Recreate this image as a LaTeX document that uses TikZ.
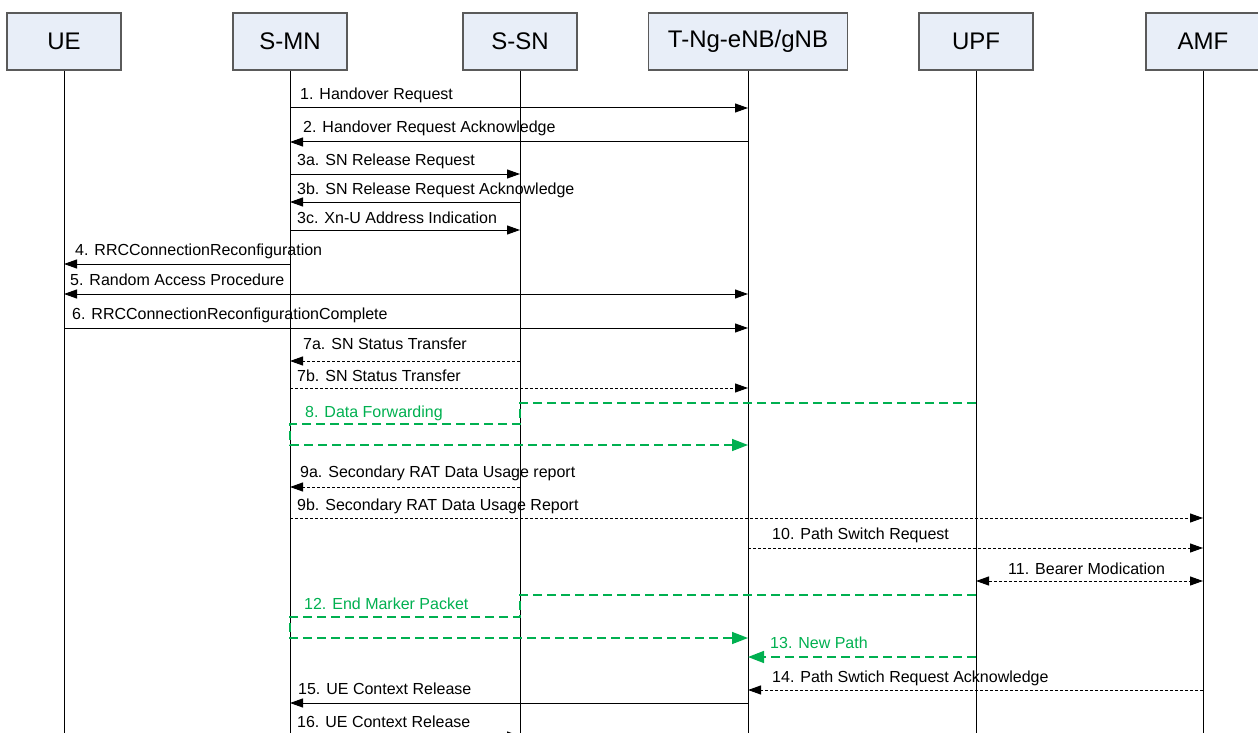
\documentclass[tikz,border=0pt]{standalone}
\usepackage{fontspec}
\setmainfont{Liberation Sans}
\usetikzlibrary{arrows.meta}
\definecolor{boxfill}{RGB}{232,238,248}
\definecolor{boxline}{RGB}{90,90,90}
\definecolor{fwdgreen}{RGB}{0,176,80}
\begin{document}
\begin{tikzpicture}[x=1pt,y=-1pt,
  actor/.style={draw=boxline,line width=1.3pt,fill=boxfill,minimum width=114pt,
    minimum height=57pt,inner sep=0pt,font=\fontsize{24}{28}\selectfont},
  life/.style={line width=1pt},
  lbl/.style={anchor=west,inner sep=0pt,font=\fontsize{16}{19}\selectfont},
  glbl/.style={lbl,text=fwdgreen},
  >={Triangle[length=13pt,width=9pt]},
  msg/.style={line width=1pt,->},
  both/.style={line width=1pt,<->},
  dmsg/.style={msg,dash pattern=on 3pt off 2pt},
  dboth/.style={both,dash pattern=on 3pt off 2pt},
  fwd/.style={draw=fwdgreen,line width=1.5pt,dash pattern=on 9pt off 5pt,
    -{Triangle[length=16pt,width=12pt]}}]
  \useasboundingbox (0,0) rectangle (1258,733);

  % entities
  \node[actor] (ue) at (64,41.5) {UE};
  \node[actor] (smn) at (290,41.5) {S-MN};
  \node[actor] (ssn) at (520,41.5) {S-SN};
  \node[actor,minimum width=199pt] (tng) at (748,41.5) {T-Ng-eNB/gNB};
  \node[actor] (upf) at (976,41.5) {UPF};
  \node[actor] (amf) at (1203,41.5) {AMF};

  % lifelines
  \foreach \n in {ue,smn,ssn,tng,upf,amf}
    \draw[life] (\n.south) -- (\n.south |- 0,740);

  % messages
  \draw[msg] (smn |- 0,108) -- (tng |- 0,108);
  \node[lbl] at ([xshift=10pt]smn |- 0,95) {1. Handover Request};
  \draw[msg] (tng |- 0,142) -- (smn |- 0,142);
  \node[lbl] at ([xshift=13pt]smn |- 0,128) {2. Handover Request Acknowledge};
  \draw[msg] (smn |- 0,174) -- (ssn |- 0,174);
  \node[lbl] at ([xshift=7pt]smn |- 0,161) {3a. SN Release Request};
  \draw[msg] (ssn |- 0,202) -- (smn |- 0,202);
  \node[lbl] at ([xshift=7pt]smn |- 0,190) {3b. SN Release Request Acknowledge};
  \draw[msg] (smn |- 0,230) -- (ssn |- 0,230);
  \node[lbl] at ([xshift=7pt]smn |- 0,218) {3c. Xn-U Address Indication};
  \draw[msg] (smn |- 0,264) -- (ue |- 0,264);
  \node[lbl] at ([xshift=11pt]ue |- 0,251) {4. RRCConnectionReconfiguration};
  \draw[both] (ue |- 0,294) -- (tng |- 0,294);
  \node[lbl] at ([xshift=6pt]ue |- 0,280) {5. Random Access Procedure};
  \draw[msg] (ue |- 0,328) -- (tng |- 0,328);
  \node[lbl] at ([xshift=8pt]ue |- 0,315) {6. RRCConnectionReconfigurationComplete};
  \draw[dmsg] (ssn |- 0,361) -- (smn |- 0,361);
  \node[lbl] at ([xshift=13pt]smn |- 0,344) {7a. SN Status Transfer};
  \draw[dmsg] (smn |- 0,388) -- (tng |- 0,388);
  \node[lbl] at ([xshift=7pt]smn |- 0,376) {7b. SN Status Transfer};

  % data forwarding
  \draw[fwd] (upf |- 0,403) -- (ssn |- 0,403) -- (ssn |- 0,424) -- (smn |- 0,424)
    -- (smn |- 0,445) -- (tng |- 0,445);
  \node[glbl] at ([xshift=15pt]smn |- 0,413) {8. Data Forwarding};

  \draw[dmsg] (ssn |- 0,487) -- (smn |- 0,487);
  \node[lbl] at ([xshift=10pt]smn |- 0,473) {9a. Secondary RAT Data Usage report};
  \draw[dmsg] (smn |- 0,518) -- (amf |- 0,518);
  \node[lbl] at ([xshift=7pt]smn |- 0,506) {9b. Secondary RAT Data Usage Report};
  \draw[dmsg] (tng |- 0,548) -- (amf |- 0,548);
  \node[lbl] at ([xshift=24pt]tng |- 0,535) {10. Path Switch Request};
  \draw[dboth] (upf |- 0,581) -- (amf |- 0,581);
  \node[lbl] at ([xshift=32pt]upf |- 0,569) {11. Bearer Modication};

  % end marker and new path
  \draw[fwd] (upf |- 0,595) -- (ssn |- 0,595) -- (ssn |- 0,617) -- (smn |- 0,617)
    -- (smn |- 0,638) -- (tng |- 0,638);
  \node[glbl] at ([xshift=14pt]smn |- 0,604) {12. End Marker Packet};
  \draw[fwd] (upf |- 0,657) -- (tng |- 0,657);
  \node[glbl] at ([xshift=22pt]tng |- 0,643) {13. New Path};

  \draw[dmsg] (amf |- 0,690) -- (tng |- 0,690);
  \node[lbl] at ([xshift=24pt]tng |- 0,678) {14. Path Swtich Request Acknowledge};
  \draw[msg] (tng |- 0,703) -- (smn |- 0,703);
  \node[lbl] at ([xshift=8pt]smn |- 0,689) {15. UE Context Release};
  \draw[msg] (smn |- 0,736) -- (ssn |- 0,736);
  \node[lbl] at ([xshift=7pt]smn |- 0,722) {16. UE Context Release};
\end{tikzpicture}
\end{document}
